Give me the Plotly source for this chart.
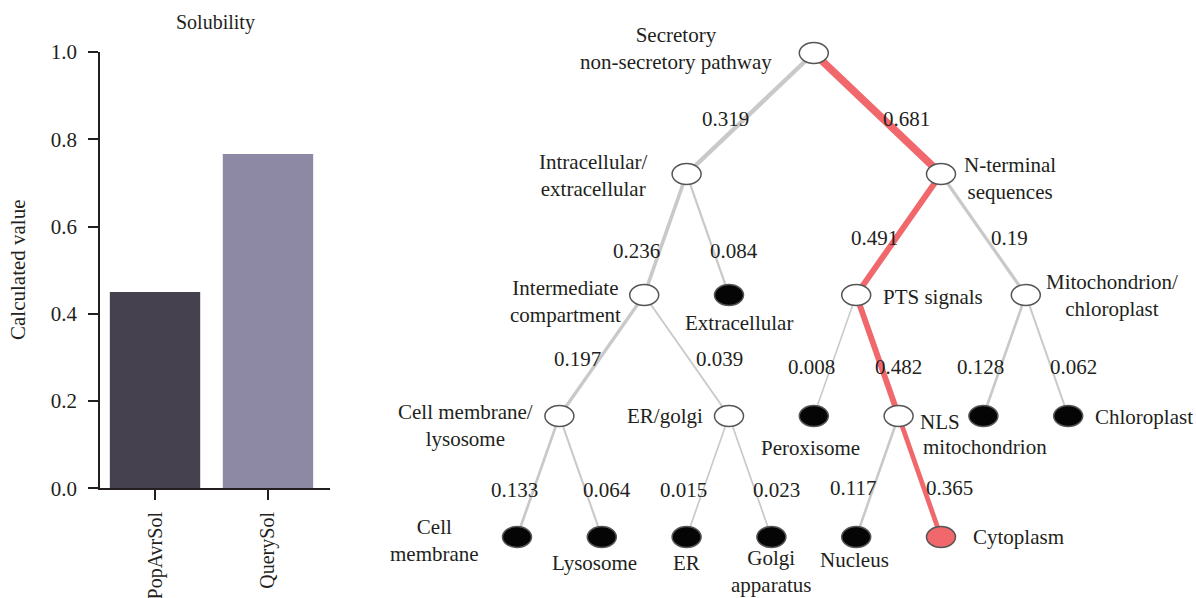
import plotly.graph_objects as go

# ---------------- data: solubility bars ----------------
bar_categories = ["PopAvrSol", "QuerySol"]
bar_values = [0.45, 0.766]
y_tick_values = [0.0, 0.2, 0.4, 0.6, 0.8, 1.0]
y_tick_labels = ["0.0", "0.2", "0.4", "0.6", "0.8", "1.0"]

# ---------------- data: localisation decision tree ----------------
node_ids = ["root", "intra", "nterm", "inter", "extra", "pts", "mitochl",
            "cmlys", "ergolgi", "perox", "nls", "mito", "chloro",
            "cm", "lys", "er", "golgi", "nucleus", "cyto"]
node_labels = ["Secretory<br>non-secretory pathway", "Intracellular/<br>extracellular",
               "N-terminal<br>sequences", "Intermediate<br>compartment", "Extracellular",
               "PTS signals", "Mitochondrion/<br>chloroplast", "Cell membrane/<br>lysosome",
               "ER/golgi", "Peroxisome", "NLS", "mitochondrion", "Chloroplast",
               "Cell<br>membrane", "Lysosome", "ER", "Golgi<br>apparatus", "Nucleus", "Cytoplasm"]
node_parents = [None, "root", "root", "intra", "intra", "nterm", "nterm",
                "inter", "inter", "pts", "pts", "mitochl", "mitochl",
                "cmlys", "cmlys", "ergolgi", "ergolgi", "nls", "nls"]
edge_probs = [None, 0.319, 0.681, 0.236, 0.084, 0.491, 0.19,
              0.197, 0.039, 0.008, 0.482, 0.128, 0.062,
              0.133, 0.064, 0.015, 0.023, 0.117, 0.365]
predicted_path = ["root", "nterm", "pts", "nls", "cyto"]

# ---------------- layout / style (not data) ----------------
FONT = "Liberation Serif"
TXT = "#231f20"
FS = 21
W, H = 1196, 598

# tree grid: slot (horizontal) and level (vertical)
NODE_SLOT = {"root": 3.5, "intra": 2, "nterm": 5, "inter": 1.5, "extra": 2.5,
             "pts": 4, "mitochl": 6, "cmlys": 0.5, "ergolgi": 2.5, "perox": 3.5,
             "nls": 4.5, "mito": 5.5, "chloro": 6.5, "cm": 0, "lys": 1, "er": 2,
             "golgi": 3, "nucleus": 4, "cyto": 5}
NODE_LEVEL = {"root": 0, "intra": 1, "nterm": 1, "inter": 2, "extra": 2, "pts": 2,
              "mitochl": 2, "cmlys": 3, "ergolgi": 3, "perox": 3, "nls": 3, "mito": 3,
              "chloro": 3, "cm": 4, "lys": 4, "er": 4, "golgi": 4, "nucleus": 4, "cyto": 4}
SLOT_PX, SLOT0_PX = 84.8, 517.0
LEVEL_PX, LEVEL0_PX = 121.0, 53.0

# node label placement: (xanchor, dx px, dy px down)
LABEL_PLACE = {"root": ("right", -40, -5), "intra": ("right", -37, 1),
               "nterm": ("left", 21, 4), "inter": ("right", -21, 6),
               "extra": ("center", 10, 28), "pts": ("left", 25, 2),
               "mitochl": ("left", 18, 0), "cmlys": ("right", -24, 9),
               "ergolgi": ("right", -24, 0), "perox": ("center", -3, 32),
               "nls": ("left", 19, 6), "mito": ("center", 2, 31),
               "chloro": ("left", 25, 1), "cm": ("right", -36, 3),
               "lys": ("center", -7, 26), "er": ("center", 0, 26),
               "golgi": ("center", 0, 34), "nucleus": ("center", -2, 23),
               "cyto": ("left", 30, 0)}
# edge-label offsets from the edge midpoint
EDGE_DX_LEFT, EDGE_DX_RIGHT = -24, 26
EDGE_DX_NUDGE = {"intra": -1, "nterm": 3, "inter": -5, "ergolgi": 7, "nls": -5, "cyto": 4}
EDGE_DY_BY_PARENT = {"root": 5, "intra": 16, "nterm": 3, "inter": 3, "pts": 11,
                     "mitochl": 11, "cmlys": 13, "ergolgi": 13, "nls": 11}

GRAY = "#c9c9c9"
RED = "#f0686b"
OUTLINE = "#555555"

fig = go.Figure()

# ---------------- bar chart ----------------
fig.add_trace(go.Bar(
    x=bar_categories, y=bar_values, width=0.8,
    marker=dict(color=["#46414f", "#8d89a5"], line=dict(width=0)),
    xaxis="x", yaxis="y", showlegend=False,
))

# ---------------- tree ----------------
slot = NODE_SLOT
lev = NODE_LEVEL
children = {n: [] for n in node_ids}
for n, p in zip(node_ids, node_parents):
    if p is not None:
        children[p].append(n)

annotations = []
for n, p, prob in zip(node_ids, node_parents, edge_probs):
    if p is None:
        continue
    on_path = n in predicted_path and p in predicted_path
    fig.add_trace(go.Scatter(
        x=[slot[p], slot[n]], y=[lev[p], lev[n]], mode="lines",
        line=dict(color=RED if on_path else GRAY, width=1.5 + 9 * prob),
        xaxis="x2", yaxis="y2", showlegend=False, hoverinfo="skip",
    ))
    dx = (EDGE_DX_LEFT if slot[n] < slot[p] else EDGE_DX_RIGHT) + EDGE_DX_NUDGE.get(n, 0)
    annotations.append(dict(
        x=(slot[p] + slot[n]) / 2, y=(lev[p] + lev[n]) / 2, xref="x2", yref="y2",
        text=f"{prob:g}", showarrow=False, xanchor="center", yanchor="middle",
        xshift=dx, yshift=-EDGE_DY_BY_PARENT[p],
        font=dict(family=FONT, size=FS, color=TXT),
    ))

shapes = []
for n, lab in zip(node_ids, node_labels):
    if children[n]:
        fill = "white"
    elif n in predicted_path:
        fill = RED
    else:
        fill = "#050505"
    shapes.append(dict(
        type="circle", xref="x2", yref="y2", xsizemode="pixel", ysizemode="pixel",
        xanchor=slot[n], yanchor=lev[n], x0=-14.5, x1=14.5, y0=-10.5, y1=10.5,
        fillcolor=fill, line=dict(color=OUTLINE, width=1.5), layer="above",
    ))
    xa, dx, dy = LABEL_PLACE[n]
    annotations.append(dict(
        x=slot[n], y=lev[n], xref="x2", yref="y2", text=lab, showarrow=False,
        xanchor=xa, yanchor="middle", align="center", xshift=dx, yshift=-dy,
        font=dict(family=FONT, size=FS, color=TXT),
    ))

# titles for bar chart
annotations.append(dict(x=215 / W, y=1 - 23 / H, xref="paper", yref="paper",
                        text="Solubility", showarrow=False, xanchor="center", yanchor="middle",
                        font=dict(family=FONT, size=20, color=TXT)))
annotations.append(dict(x=18 / W, y=1 - 270 / H, xref="paper", yref="paper",
                        text="Calculated value", showarrow=False, textangle=-90,
                        xanchor="center", yanchor="middle",
                        font=dict(family=FONT, size=FS, color=TXT)))

fig.update_layout(
    width=W, height=H, margin=dict(l=0, r=0, t=0, b=0, pad=0, autoexpand=False),
    paper_bgcolor="white", plot_bgcolor="rgba(0,0,0,0)",
    font=dict(family=FONT, size=FS, color=TXT),
    xaxis=dict(domain=[100 / W, 330 / W], range=[-0.487, 1.549], type="category",
               showline=True, linecolor=TXT, linewidth=1.5, ticks="outside",
               ticklen=10, tickwidth=1.5, tickcolor=TXT, tickangle=-90,
               ticklabelstandoff=4,
               showgrid=False, zeroline=False, anchor="y", fixedrange=True,
               automargin=False,
               tickfont=dict(family=FONT, size=20, color=TXT)),
    yaxis=dict(domain=[(H - 488.3) / H, (H - 52) / H], range=[0, 1],
               tickvals=y_tick_values, ticktext=y_tick_labels,
               showline=True, linecolor=TXT, linewidth=1.5, ticks="outside",
               ticklen=10, tickwidth=1.5, tickcolor=TXT, ticklabelstandoff=7,
               showgrid=False, zeroline=False, anchor="x", fixedrange=True,
               automargin=False,
               tickfont=dict(family=FONT, size=FS, color=TXT)),
    xaxis2=dict(domain=[0, 1], range=[-SLOT0_PX / SLOT_PX, (W - SLOT0_PX) / SLOT_PX],
                visible=False, anchor="y2", fixedrange=True, automargin=False),
    yaxis2=dict(domain=[0, 1], range=[(H - LEVEL0_PX) / LEVEL_PX, -LEVEL0_PX / LEVEL_PX],
                visible=False, anchor="x2", fixedrange=True, automargin=False),
    shapes=shapes, annotations=annotations, showlegend=False,
)

fig.write_html(
    "out.html",
    config={"displayModeBar": False},
    post_script="document.body.style.margin='0';document.body.style.overflow='hidden';",
)
